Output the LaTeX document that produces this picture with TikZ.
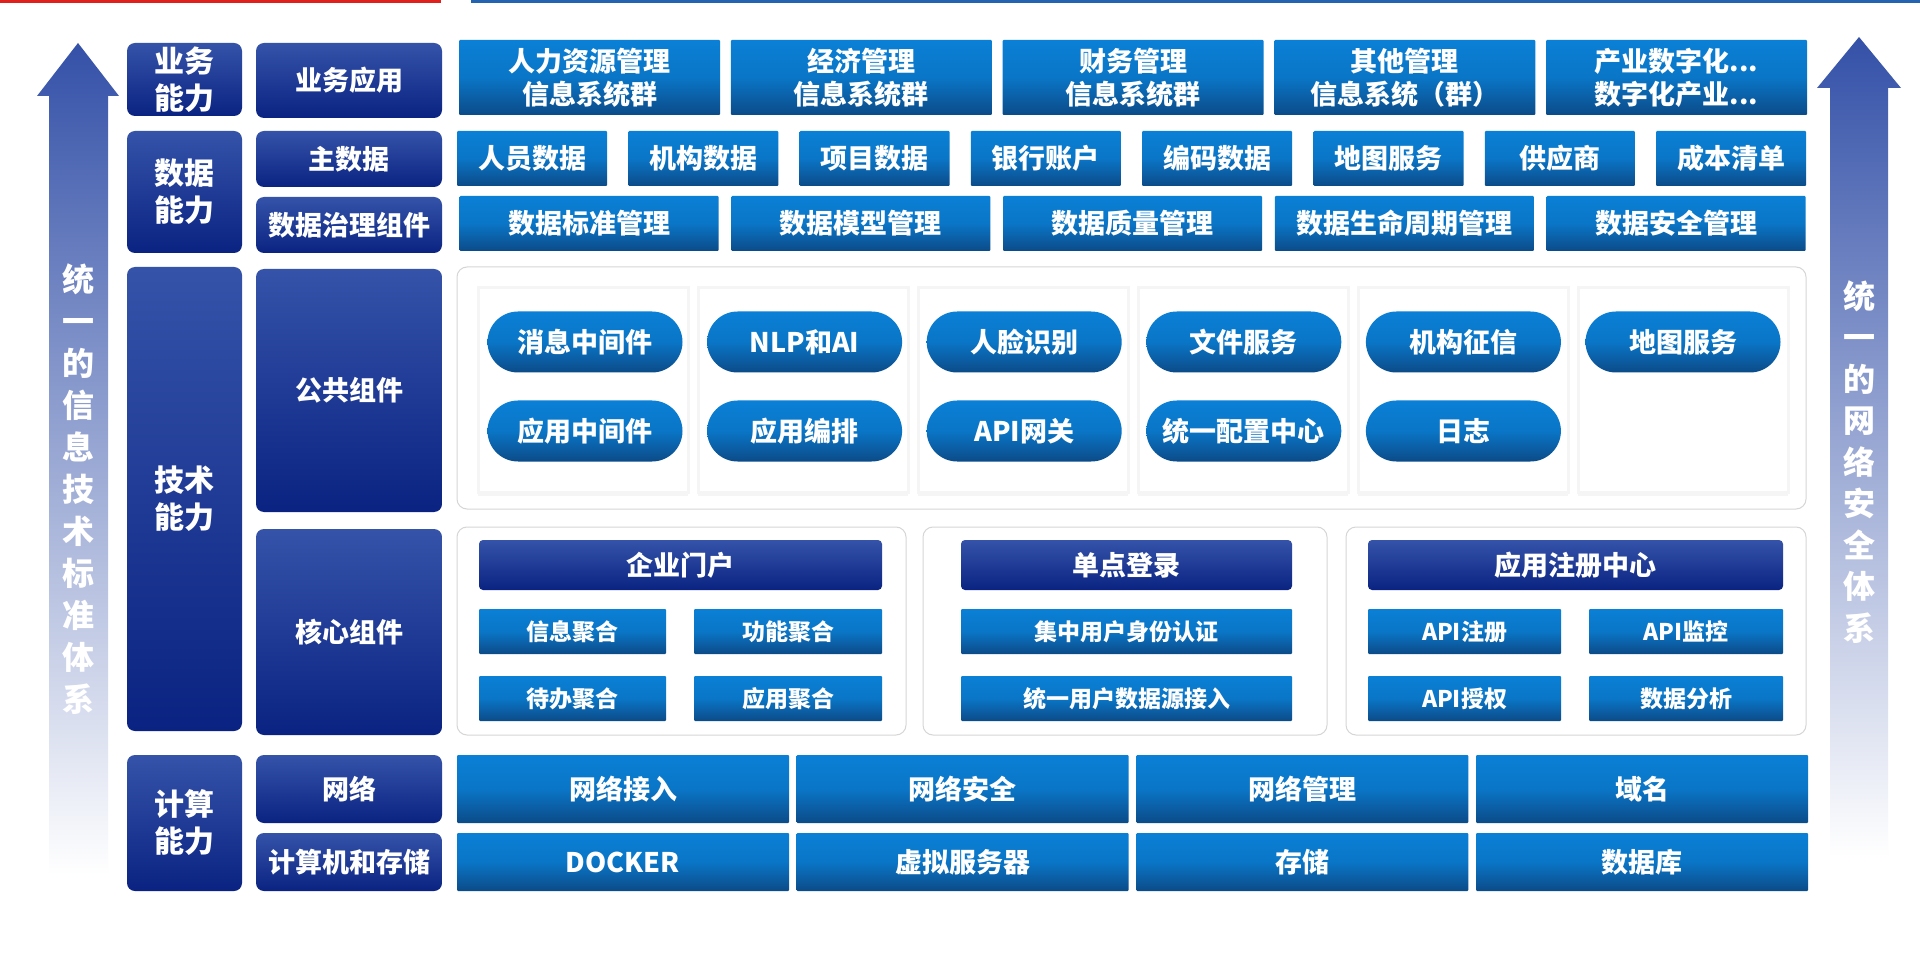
\documentclass[tikz,border=0pt]{standalone}
\usepackage{fontspec}
\setmainfont{Noto Sans CJK SC}
\usepackage{tikz}
\usetikzlibrary{positioning, shapes.misc, shadows}

\definecolor{navytop}{HTML}{3553A9}
\definecolor{navybot}{HTML}{0A2382}
\definecolor{bluetop}{HTML}{0A80D6}
\definecolor{bluebot}{HTML}{0B4B88}
\definecolor{arrowblue}{HTML}{3451A8}
\definecolor{framegray}{HTML}{D6D6D6}
\definecolor{topred}{HTML}{E0201C}
\definecolor{topblue}{HTML}{2463B0}

\newcommand{\trail}{...}

\tikzset{
	capbox/.style={rounded corners=8pt, top color=navytop, bottom color=navybot, text=white, align=center, inner sep=0pt, font=\bfseries\fontsize{30}{37}\selectfont},
	subbox/.style={capbox, font=\bfseries\fontsize{27}{33}\selectfont},
	headbox/.style={capbox, rounded corners=4pt, font=\bfseries\fontsize{27}{33}\selectfont},
	itembox/.style={rounded corners=1pt, top color=bluetop, bottom color=bluebot, middle color=bluetop!80!bluebot, text=white, align=center, inner sep=0pt, font=\bfseries\fontsize{27}{33}\selectfont},
	smallbox/.style={itembox, font=\bfseries\fontsize{23}{28}\selectfont},
	pill/.style={rounded rectangle, top color=bluetop, bottom color=bluebot, middle color=bluetop!80!bluebot, text=white, inner sep=0pt, minimum width=195pt, minimum height=61pt, font=\bfseries\fontsize{27}{33}\selectfont},
	frame/.style={draw=framegray, line width=1pt, fill=white, rounded corners=10pt},
	column/.style={fill=white, draw=black!4, line width=3pt, inner sep=0pt, minimum width=210pt, minimum height=204pt, drop shadow={shadow xshift=0pt, shadow yshift=-4pt, opacity=0.08}},
	sidetext/.style={text=white, align=center, inner sep=0pt, font=\bfseries\fontsize{32}{42}\selectfont},
}

\begin{document}
\begin{tikzpicture}[x=1pt, y=-1pt]

	\useasboundingbox (0,0) rectangle (1920,973);
	\fill[white] (0,0) rectangle (1920,973);
	\fill[topred] (0,0) rectangle (441,3);
	\fill[topblue] (471,0) rectangle (1920,3);

	% arrows - left and right %
	\shade[top color=arrowblue, middle color=arrowblue!85!white, bottom color=white]
		(49,875) -- (49,96) -- (37,96) -- (78,43) -- (119,96) -- (108,96) -- (108,875) -- cycle;
	\shade[top color=arrowblue, middle color=arrowblue!85!white, bottom color=white]
		(1830,857) -- (1830,88) -- (1817,88) -- (1859,37) -- (1901,88) -- (1888,88) -- (1888,857) -- cycle;
	\node[sidetext] (leftlabel) at (78,489) {统\\一\\的\\信\\息\\技\\术\\标\\准\\体\\系};
	\node[sidetext, font=\bfseries\fontsize{32}{41.5}\selectfont] (rightlabel) at (1859,462) {统\\一\\的\\网\\络\\安\\全\\体\\系};

	% nodes - capability column %
	\node[capbox, minimum width=115pt, minimum height=73pt] (cap1) at (184.5,79.5) {业务\\能力};
	\node[capbox, minimum width=115pt, minimum height=122pt] (cap2) at (184.5,192) {数据\\能力};
	\node[capbox, minimum width=115pt, minimum height=464pt] (cap3) at (184.5,499) {技术\\能力};
	\node[capbox, minimum width=115pt, minimum height=136pt] (cap4) at (184.5,823) {计算\\能力};

	% nodes - layer column %
	\node[subbox, minimum width=186pt, minimum height=75pt] (apps) at (349,80.5) {业务应用};
	\node[subbox, minimum width=186pt, minimum height=56pt] (master) at (349,159) {主数据};
	\node[subbox, minimum width=186pt, minimum height=56pt] (govern) at (349,225) {数据治理组件};
	\node[subbox, minimum width=186pt, minimum height=243pt] (common) at (349,390.5) {公共组件};
	\node[subbox, minimum width=186pt, minimum height=206pt] (core) at (349,632) {核心组件};
	\node[subbox, minimum width=186pt, minimum height=68pt] (net) at (349,789) {网络};
	\node[subbox, minimum width=186pt, minimum height=58pt] (comp) at (349,862) {计算机和存储};

	% nodes - business and data rows %
	\foreach \txt [count=\i from 0] in {{人力资源管理\\信息系统群}, {经济管理\\信息系统群}, {财务管理\\信息系统群}, {其他管理\\信息系统（群）}, {产业数字化\trail\\数字化产业\trail}}
		\node[itembox, minimum width=261pt, minimum height=75pt] (app\i) at ({589.5+\i*271.75},77.5) {\txt};
	\foreach \txt [count=\i from 0] in {人员数据, 机构数据, 项目数据, 银行账户, 编码数据, 地图服务, 供应商, 成本清单}
		\node[itembox, minimum width=150pt, minimum height=55pt] (md\i) at ({532+\i*171.3},158.5) {\txt};
	\foreach \txt [count=\i from 0] in {数据标准管理, 数据模型管理, 数据质量管理, 数据生命周期管理, 数据安全管理}
		\node[itembox, minimum width=259pt, minimum height=55pt] (dg\i) at ({589+\i*271.75},223.5) {\txt};

	% nodes - common components %
	\draw[frame] (457,267) rectangle (1806,509);
	\foreach \i in {0,1,2,3,4,5}
		\node[column] (col\i) at ({583+\i*220},390) {};
	\foreach \txt [count=\i from 0] in {消息中间件, NLP和AI, 人脸识别, 文件服务, 机构征信, 地图服务}
		\node[pill] (pa\i) at ({585+\i*219.6},342) {\txt};
	\foreach \txt [count=\i from 0] in {应用中间件, 应用编排, API网关, 统一配置中心, 日志}
		\node[pill] (pb\i) at ({585+\i*219.6},431) {\txt};

	% nodes - core components %
	\draw[frame] (457,527) rectangle (906,735);
	\draw[frame] (923,527) rectangle (1327,735);
	\draw[frame] (1346,527) rectangle (1806,735);
	\node[headbox, minimum width=403pt, minimum height=50pt] (portal) at (680.5,565) {企业门户};
	\node[smallbox, minimum width=187pt, minimum height=45pt] (info) at (572.5,631.5) {信息聚合};
	\node[smallbox, minimum width=188pt, minimum height=45pt] (func) at (788,631.5) {功能聚合};
	\node[smallbox, minimum width=187pt, minimum height=45pt] (todo) at (572.5,698.5) {待办聚合};
	\node[smallbox, minimum width=188pt, minimum height=45pt] (appagg) at (788,698.5) {应用聚合};
	\node[headbox, minimum width=331pt, minimum height=50pt] (sso) at (1126.5,565) {单点登录};
	\node[smallbox, minimum width=331pt, minimum height=45pt] (auth) at (1126.5,631.5) {集中用户身份认证};
	\node[smallbox, minimum width=331pt, minimum height=45pt] (source) at (1126.5,698.5) {统一用户数据源接入};
	\node[headbox, minimum width=415pt, minimum height=50pt] (registry) at (1575.5,565) {应用注册中心};
	\node[smallbox, minimum width=193pt, minimum height=45pt] (apireg) at (1464.5,631.5) {API注册};
	\node[smallbox, minimum width=194pt, minimum height=45pt] (apimon) at (1686,631.5) {API监控};
	\node[smallbox, minimum width=193pt, minimum height=45pt] (apiauth) at (1464.5,698.5) {API授权};
	\node[smallbox, minimum width=194pt, minimum height=45pt] (analysis) at (1686,698.5) {数据分析};

	% nodes - computing rows %
	\foreach \txt [count=\i from 0] in {网络接入, 网络安全, 网络管理, 域名}
		\node[itembox, minimum width=332pt, minimum height=68pt] (nw\i) at ({623+\i*339.7},789) {\txt};
	\foreach \txt [count=\i from 0] in {DOCKER, 虚拟服务器, 存储, 数据库}
		\node[itembox, minimum width=332pt, minimum height=58pt] (cs\i) at ({623+\i*339.7},862) {\txt};

\end{tikzpicture}
\end{document}
